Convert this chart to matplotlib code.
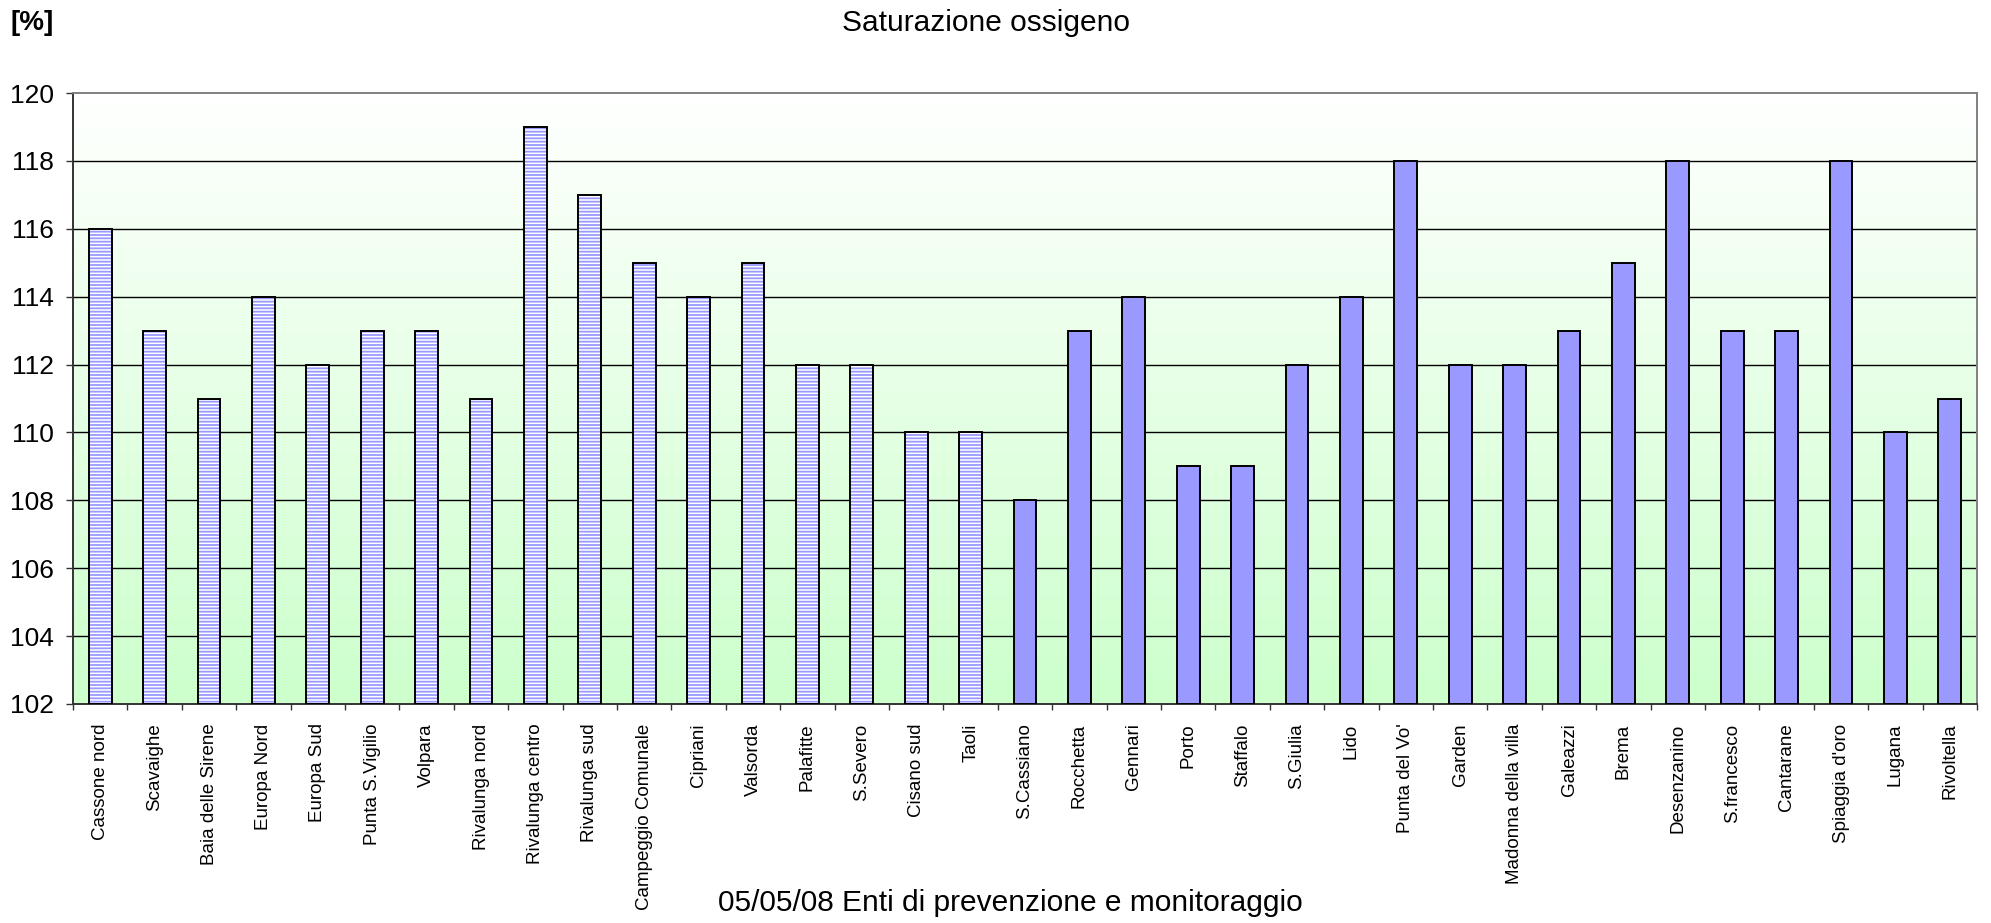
import numpy as np
import matplotlib
matplotlib.use("Agg")
import matplotlib.pyplot as plt
from matplotlib.colors import LinearSegmentedColormap

# Stations and oxygen saturation (%)
stations_enti = [
    "Cassone nord", "Scavaighe", "Baia delle Sirene", "Europa Nord", "Europa Sud",
    "Punta S.Vigilio", "Volpara", "Rivalunga nord", "Rivalunga centro", "Rivalunga sud",
    "Campeggio Comunale", "Cipriani", "Valsorda", "Palafitte", "S.Severo",
    "Cisano sud", "Taoli",
]
values_enti = [116, 113, 111, 114, 112, 113, 113, 111, 119, 117, 115, 114, 115, 112, 112, 110, 110]

stations_monit = [
    "S.Cassiano", "Rocchetta", "Gennari", "Porto", "Staffalo", "S.Giulia", "Lido",
    "Punta del Vo'", "Garden", "Madonna della villa", "Galeazzi", "Brema", "Desenzanino",
    "S.francesco", "Cantarane", "Spiaggia d'oro", "Lugana", "Rivoltella",
]
values_monit = [108, 113, 114, 109, 109, 112, 114, 118, 112, 112, 113, 115, 118, 113, 113, 118, 110, 111]

y_ticks = [102, 104, 106, 108, 110, 112, 114, 116, 118, 120]

plt.rcParams["font.family"] = ["Liberation Sans", "DejaVu Sans"]
plt.rcParams["hatch.linewidth"] = 1.3

fig = plt.figure(figsize=(19.91, 9.23), dpi=100)
ax = fig.add_axes([0.0367, 0.2373, 0.9563, 0.6619])

labels = stations_enti + stations_monit
n = len(labels)
x_enti = np.arange(len(stations_enti))
x_monit = np.arange(len(stations_enti), n)

ymin, ymax = y_ticks[0], y_ticks[-1]
ax.set_xlim(-0.5, n - 0.5)
ax.set_ylim(ymin, ymax)

# Plot-area background: white at the top fading to light green
grad = LinearSegmentedColormap.from_list("bg", ["#CCFFCC", "#FFFFFF"])
ax.imshow(np.linspace(0, 1, 256).reshape(-1, 1), cmap=grad, aspect="auto",
          extent=(-0.5, n - 0.5, ymin, ymax), origin="lower", zorder=0)

# Horizontal gridlines
for yv in y_ticks[1:-1]:
    ax.axhline(yv, color="black", lw=1.0, zorder=1)

w = 0.42
h_enti = np.array(values_enti) - ymin
# striped fill (hatch takes the edge colour), then black outline on top
ax.bar(x_enti, h_enti, bottom=ymin, width=w, facecolor="white",
       hatch="-----", edgecolor="#9999FF", linewidth=0, zorder=2)
ax.bar(x_enti, h_enti, bottom=ymin, width=w, fill=False,
       edgecolor="black", linewidth=1.4, zorder=3)
ax.bar(x_monit, np.array(values_monit) - ymin, bottom=ymin, width=w,
       facecolor="#9999FF", edgecolor="black", linewidth=1.4, zorder=3)

# Axes styling
for side, col in (("left", "#333333"), ("bottom", "#333333"),
                  ("top", "#808080"), ("right", "#808080")):
    ax.spines[side].set_color(col)
    ax.spines[side].set_linewidth(1.4)

ax.set_yticks(y_ticks)
ax.set_yticklabels([str(v) for v in y_ticks], fontsize=19)
ax.tick_params(axis="y", direction="out", length=5, width=1.0, pad=9, color="#333333")

ax.set_xticks(np.arange(n))
ax.set_xticklabels(labels, rotation=90, fontsize=13.5, va="top", ha="center")
ax.tick_params(axis="x", which="major", length=0, pad=14)
ax.set_xticks(np.arange(n + 1) - 0.5, minor=True)
ax.tick_params(axis="x", which="minor", direction="out", length=4, width=1.0, color="#333333")

fig.text(0.495, 0.975, "Saturazione ossigeno", ha="center", va="center", fontsize=21.5)
fig.text(0.016, 0.975, "[%]", ha="center", va="center", fontsize=20, fontweight="bold")
fig.text(0.5075, 0.022, "05/05/08 Enti di prevenzione e monitoraggio",
         ha="center", va="center", fontsize=21.5)

fig.savefig("out.png", dpi=100)
